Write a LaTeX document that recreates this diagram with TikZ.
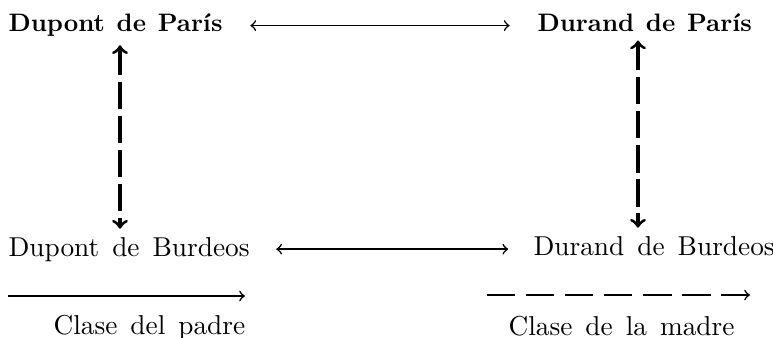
\documentclass[tikz,border=0pt]{standalone}
\usepackage{fontspec}
\usetikzlibrary{arrows}
\usetikzlibrary{positioning}

\newcommand{\lblfont}{\fontsize{10.5}{12}\selectfont\spaceskip 5pt plus 1pt\relax}
\newcommand{\boldfont}{\fontsize{9.7}{12}\selectfont\bfseries\spaceskip 4.5pt plus 1pt\relax}

\tikzset{
  lbl/.style={inner sep=0pt, anchor=base west, font=\lblfont},
  blbl/.style={lbl, font=\boldfont},
  hline/.style={semithick, <->, >=to},
  vline/.style={very thick, <->, >=to, dash pattern=on 10.5pt off 2.6pt,
    shorten <=3pt, shorten >=3pt},
  key/.style={semithick, ->, >=to},
}

\begin{document}
\begin{tikzpicture}[x=0.0135cm, y=-0.0135cm]
\useasboundingbox (0,0) rectangle (773,338);

% familias
\node[blbl] (dpp) at (8,32) {Dupont de París};
\node[blbl] (drp) at (537,32) {Durand de París};
\node[lbl] (dpb) at (8,256) {Dupont de Burdeos};
\node[lbl] (drb) at (533,255) {Durand de Burdeos};

\coordinate (lv) at (120,0);
\coordinate (rv) at (638,0);

% clase del padre
\draw [hline] ([xshift=10.5pt]dpp.east) -- ([xshift=-10.5pt]dpp.east -| drp.west);
\draw [hline] ([xshift=10pt]dpb.east) -- ([xshift=-9.5pt]dpb.east -| drb.west);

% clase de la madre
\draw [vline] (dpp.south -| lv) -- (dpb.north -| lv);
\draw [vline] (drp.south -| rv) -- (drb.north -| rv);

% leyenda
\node[lbl] (cp) at (53,334) {Clase del padre};
\node[lbl] (cm) at (508,335) {Clase de la madre};
\coordinate (pa) at (8,296);
\coordinate (pb) at (245,296);
\coordinate (ma) at (487,295);
\coordinate (mb) at (750,295);
\draw [key] (pa) -- (pb);
\draw [key, dash pattern=on 10.9pt off 4.1pt] (ma) -- (mb);
\end{tikzpicture}
\end{document}
